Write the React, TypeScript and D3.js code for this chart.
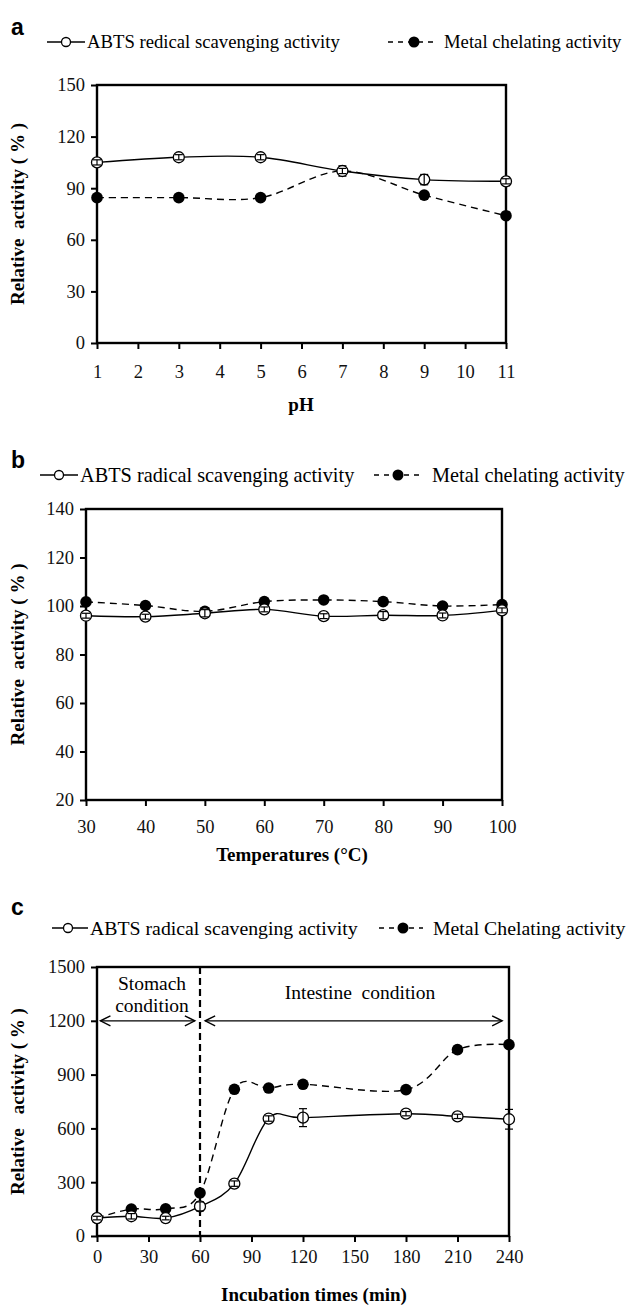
import React, { useEffect, useRef } from 'react';
import * as d3 from 'd3';

// ---- panel a : pH stability ----
const phValues = [1, 3, 5, 7, 9, 11];
const phAbts = [105, 108, 108, 100, 95, 94];
const phAbtsErr = [1.5, 1.5, 1.5, 1.5, 3, 1.5];
const phMetal = [84.5, 84.5, 84.5, 100, 86, 74];
const phMetalErr = [1, 1, 1, 3, 1, 1];
const phXTicks = [1, 2, 3, 4, 5, 6, 7, 8, 9, 10, 11];
const phYTicks = [0, 30, 60, 90, 120, 150];

// ---- panel b : temperature stability ----
const tempValues = [30, 40, 50, 60, 70, 80, 90, 100];
const tempAbts = [96, 95.6, 97, 98.6, 95.8, 96.2, 96.1, 98.2];
const tempAbtsErr = [1, 1, 1.5, 1, 1, 1.5, 1, 1];
const tempMetal = [101.7, 100.2, 97.8, 101.8, 102.5, 101.8, 100, 100.6];
const tempMetalErr = [1, 1, 1.5, 1, 1, 1.5, 1, 1];
const tempXTicks = [30, 40, 50, 60, 70, 80, 90, 100];
const tempYTicks = [20, 40, 60, 80, 100, 120, 140];

// ---- panel c : in vitro digestion ----
const timeValues = [0, 20, 40, 60, 80, 100, 120, 180, 210, 240];
const timeAbts = [100, 110, 100, 165, 292, 655, 660, 682, 667, 651];
const timeAbtsErr = [10, 15, 10, 25, 15, 15, 50, 12, 12, 55];
const timeMetal = [100, 150, 152, 240, 818, 825, 846, 816, 1039, 1067];
const timeMetalErr = [10, 10, 10, 20, 10, 10, 10, 10, 10, 10];
const timeXTicks = [0, 30, 60, 90, 120, 150, 180, 210, 240];
const timeYTicks = [0, 300, 600, 900, 1200, 1500];

const serif = "'Liberation Serif', 'Times New Roman', serif";
const sans = "'Liberation Sans', Arial, sans-serif";

const panels = [
  {
    letter: 'a', letterY: 35,
    legendY: 42, legend1: [47, 85, 66, 87], legend2: [388, 437, 414, 444], legendSize: 18.7,
    abtsLabel: 'ABTS redical scavenging activity', metalLabel: 'Metal chelating activity',
    left: 97, right: 506, top: 85, bottom: 343,
    x: phValues, abts: phAbts, abtsErr: phAbtsErr, metal: phMetal, metalErr: phMetalErr,
    xTicks: phXTicks, yTicks: phYTicks, xDomain: [1, 11], yDomain: [0, 150],
    xPad: 16, xTitle: 'pH', xTitleX: 301, xTitleY: 411,
    yTitle: 'Relative  activity ( % )',
  },
  {
    letter: 'b', letterY: 468,
    legendY: 475, legend1: [40, 78, 59, 80], legend2: [374, 422, 398, 432], legendSize: 20.3,
    abtsLabel: 'ABTS radical scavenging activity', metalLabel: 'Metal chelating activity',
    left: 86, right: 502, top: 509, bottom: 800,
    x: tempValues, abts: tempAbts, abtsErr: tempAbtsErr, metal: tempMetal, metalErr: tempMetalErr,
    xTicks: tempXTicks, yTicks: tempYTicks, xDomain: [30, 100], yDomain: [20, 140],
    xPad: 14, xTitle: 'Temperatures (°C)', xTitleX: 292, xTitleY: 861,
    yTitle: 'Relative  activity ( % )',
  },
  {
    letter: 'c', letterY: 915,
    legendY: 928, legend1: [52, 88, 68, 90], legend2: [379, 423, 403, 433], legendSize: 19.8,
    abtsLabel: 'ABTS radical scavenging activity', metalLabel: 'Metal Chelating activity',
    left: 97, right: 509, top: 967, bottom: 1236,
    x: timeValues, abts: timeAbts, abtsErr: timeAbtsErr, metal: timeMetal, metalErr: timeMetalErr,
    xTicks: timeXTicks, yTicks: timeYTicks, xDomain: [0, 240], yDomain: [0, 1500],
    xPad: 8, xTitle: 'Incubation times (min)', xTitleX: 314, xTitleY: 1301,
    yTitle: 'Relative   activity ( % )',
  },
];

function drawPanel(svg: any, p: any, idx: number) {
  const g = svg.append('g');
  const x = d3.scaleLinear().domain(p.xDomain).range([p.left, p.right]);
  const y = d3.scaleLinear().domain(p.yDomain).range([p.bottom, p.top]);

  // panel letter
  g.append('text')
    .attr('x', 11).attr('y', p.letterY)
    .text(p.letter)
    .style('font-family', sans).style('font-weight', 'bold').style('font-size', '23px');

  // legend
  const [a1, a2, am, at] = p.legend1;
  const [b1, b2, bm, bt] = p.legend2;
  g.append('line').attr('x1', a1).attr('x2', a2).attr('y1', p.legendY).attr('y2', p.legendY)
    .attr('stroke', '#000').attr('stroke-width', 1.5);
  g.append('circle').attr('cx', am).attr('cy', p.legendY).attr('r', 4.5)
    .attr('fill', '#fff').attr('stroke', '#000').attr('stroke-width', 1.3);
  g.append('text').attr('x', at).attr('y', p.legendY).attr('dy', '0.34em').text(p.abtsLabel)
    .style('font-family', serif).style('font-size', p.legendSize + 'px');
  g.append('line').attr('x1', b1).attr('x2', b2).attr('y1', p.legendY).attr('y2', p.legendY)
    .attr('stroke', '#000').attr('stroke-width', 1.6).attr('stroke-dasharray', '5,5');
  g.append('circle').attr('cx', bm).attr('cy', p.legendY).attr('r', 5.5).attr('fill', '#000');
  g.append('text').attr('x', bt).attr('y', p.legendY).attr('dy', '0.34em').text(p.metalLabel)
    .style('font-family', serif).style('font-size', p.legendSize + 'px');

  // axes
  const xAxis = d3.axisBottom(x).tickValues(p.xTicks).tickSize(6).tickPadding(p.xPad).tickFormat(d3.format('d'));
  const gx = g.append('g').attr('transform', `translate(0,${p.bottom})`).call(xAxis);
  const yAxis = d3.axisLeft(y).tickValues(p.yTicks).tickSize(6).tickPadding(6).tickFormat(d3.format('d'));
  const gy = g.append('g').attr('transform', `translate(${p.left},0)`).call(yAxis);
  [gx, gy].forEach((ax) => {
    ax.select('.domain').remove();
    ax.selectAll('line').attr('stroke', '#000').attr('stroke-width', 2);
    ax.selectAll('text').style('font-family', serif).style('font-size', '18.5px').attr('fill', '#111');
  });

  // frame
  g.append('rect')
    .attr('x', p.left).attr('y', p.top)
    .attr('width', p.right - p.left).attr('height', p.bottom - p.top)
    .attr('fill', 'none').attr('stroke', '#000').attr('stroke-width', 2.4);

  // axis titles
  g.append('text').attr('x', p.xTitleX).attr('y', p.xTitleY).attr('text-anchor', 'middle')
    .text(p.xTitle)
    .style('font-family', serif).style('font-weight', 'bold').style('font-size', '19px');
  g.append('text')
    .attr('transform', `translate(24,${(p.top + p.bottom) / 2}) rotate(-90)`)
    .attr('text-anchor', 'middle')
    .attr('xml:space', 'preserve')
    .style('white-space', 'pre')
    .text(p.yTitle)
    .style('font-family', serif).style('font-weight', 'bold').style('font-size', '19px');

  // panel c extras: stage divider and arrows
  if (idx === 2) {
    g.append('line').attr('x1', x(60)).attr('x2', x(60)).attr('y1', p.top).attr('y2', p.bottom)
      .attr('stroke', '#000').attr('stroke-width', 2.2).attr('stroke-dasharray', '7,4');
    const ay = y(1200);
    const arrow = (x1: number, x2: number) => {
      g.append('line').attr('x1', x1).attr('x2', x2).attr('y1', ay).attr('y2', ay)
        .attr('stroke', '#000').attr('stroke-width', 1.3);
      g.append('path').attr('d', `M${x1 + 10},${ay - 5}L${x1},${ay}L${x1 + 10},${ay + 5}`)
        .attr('fill', 'none').attr('stroke', '#000').attr('stroke-width', 1.4);
      g.append('path').attr('d', `M${x2 - 10},${ay - 5}L${x2},${ay}L${x2 - 10},${ay + 5}`)
        .attr('fill', 'none').attr('stroke', '#000').attr('stroke-width', 1.4);
    };
    arrow(x(2), x(57));
    arrow(x(63), x(236));
    const note = (tx: number, ty: number, s: string) =>
      g.append('text').attr('x', tx).attr('y', ty).attr('dy', '0.34em').attr('text-anchor', 'middle')
        .attr('xml:space', 'preserve').style('white-space', 'pre')
        .text(s).style('font-family', serif).style('font-size', '19.5px');
    note(152, 983, 'Stomach');
    note(152, 1005, 'condition');
    note(360, 992, 'Intestine  condition');
  }

  const pts = (vals: number[]) => vals.map((v, i) => [x(p.x[i]), y(v)] as [number, number]);
  const line = d3.line().curve(d3.curveCardinal.tension(0));

  // metal chelating (dashed, filled)
  g.append('path').attr('d', line(pts(p.metal))).attr('fill', 'none')
    .attr('stroke', '#000').attr('stroke-width', 1.4).attr('stroke-dasharray', '7,5');
  // ABTS (solid, open)
  g.append('path').attr('d', line(pts(p.abts))).attr('fill', 'none')
    .attr('stroke', '#000').attr('stroke-width', 1.4);

  const errBars = (vals: number[], errs: number[]) => {
    vals.forEach((v, i) => {
      const cx = x(p.x[i]);
      const y1 = y(v - errs[i]);
      const y2 = y(v + errs[i]);
      g.append('line').attr('x1', cx).attr('x2', cx).attr('y1', y1).attr('y2', y2)
        .attr('stroke', '#000').attr('stroke-width', 1.2);
      [y1, y2].forEach((yy) =>
        g.append('line').attr('x1', cx - 4).attr('x2', cx + 4).attr('y1', yy).attr('y2', yy)
          .attr('stroke', '#000').attr('stroke-width', 1.2));
    });
  };

  errBars(p.metal, p.metalErr);
  p.metal.forEach((v: number, i: number) => {
    g.append('circle').attr('cx', x(p.x[i])).attr('cy', y(v)).attr('r', 5.8).attr('fill', '#000');
  });
  p.abts.forEach((v: number, i: number) => {
    g.append('circle').attr('cx', x(p.x[i])).attr('cy', y(v)).attr('r', 5.5)
      .attr('fill', '#fff').attr('stroke', '#000').attr('stroke-width', 1.3);
  });
  errBars(p.abts, p.abtsErr);
}

export default function App() {
  const ref = useRef<SVGSVGElement>(null);

  useEffect(() => {
    const svg = d3.select(ref.current);
    svg.selectAll('*').remove();
    panels.forEach((p, i) => drawPanel(svg, p, i));
  }, []);

  return (
    <svg
      ref={ref}
      width={643}
      height={1307}
      style={{ position: 'absolute', left: 0, top: 0, background: '#fff' }}
    />
  );
}
